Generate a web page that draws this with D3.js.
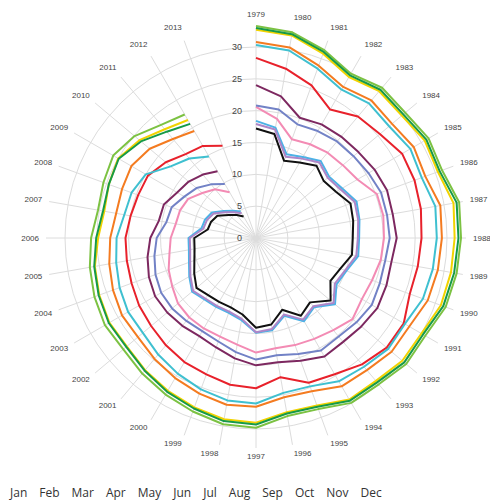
<!DOCTYPE html>
<html>
<head>
<meta charset="utf-8">
<script src="https://cdn.jsdelivr.net/npm/d3@7"></script>
<style>
  body { margin: 0; background: #fff; }
  svg { display: block; }
</style>
</head>
<body>
<svg id="chart" width="490" height="501"></svg>
<script>
// Arctic sea ice volume (thousand km3), one series per month, 1979 onwards
const years = d3.range(1979, 2014);
const months = ['Jan', 'Feb', 'Mar', 'Apr', 'May', 'Jun', 'Jul', 'Aug', 'Sep', 'Oct', 'Nov', 'Dec'];
const monthColors = ['#e8212b', '#f47b20', '#f2d300', '#7cc242', '#169a48', '#3fc0d0',
  '#f38bb4', '#4cb2e6', '#111111', '#ad86c8', '#7282c6', '#7d2860'];
const radialTicks = [0, 5, 10, 15, 20, 25, 30];

const jan = [28.3, 27.0, 25.5, 23.3, 24.9, 25.4, 26.5, 26.5, 26.3, 26.0, 25.8, 25.7, 26.8, 26.8, 25.9, 24.7, 24.2, 22.2, 23.6, 23.4, 22.8, 22.5, 22.0, 21.5, 21.2, 20.8, 20.6, 20.5, 20.0, 19.7, 19.6, 18.5, 17.2, 16.7, 15.4];
const feb = [30.8, 30.4, 28.8, 27.4, 28.2, 27.9, 28.6, 28.3, 29.4, 29.2, 29.0, 28.7, 27.8, 27.8, 27.1, 26.9, 25.6, 25.4, 26.5, 26.6, 26.0, 25.4, 24.8, 24.2, 24.3, 23.9, 23.4, 22.9, 22.3, 22.4, 22.6, 21.8, 20.3, 19.4];
const mar = [32.7, 32.3, 30.8, 29.2, 30.1, 29.9, 30.6, 30.4, 31.5, 31.2, 31.1, 30.9, 30.0, 30.0, 29.3, 29.3, 28.0, 27.8, 29.0, 28.9, 28.3, 27.7, 27.1, 26.5, 26.6, 26.2, 25.7, 24.8, 24.2, 24.6, 25.0, 23.9, 22.3, 21.4];
const apr = [33.3, 32.8, 31.4, 29.8, 30.8, 30.6, 31.3, 31.1, 32.4, 32.2, 32.0, 31.7, 30.7, 30.8, 30.0, 29.9, 28.6, 28.4, 29.8, 29.7, 29.0, 28.4, 27.8, 27.2, 27.4, 27.0, 26.5, 25.9, 25.2, 25.5, 25.9, 24.9, 23.2, 22.4];
const may = [33.0, 32.5, 31.1, 29.5, 30.4, 30.2, 30.9, 30.7, 32.0, 31.8, 31.6, 31.3, 30.3, 30.4, 29.6, 29.5, 28.2, 28.0, 29.3, 29.2, 28.5, 27.9, 27.2, 26.6, 26.7, 26.3, 25.8, 25.1, 24.4, 24.6, 24.9, 23.6, 21.8, 20.7];
const jun = [30.3, 29.9, 28.3, 26.9, 27.6, 27.3, 28.0, 27.7, 28.6, 28.4, 28.2, 27.9, 27.0, 27.1, 26.4, 26.0, 24.8, 24.7, 26.0, 25.9, 25.3, 24.6, 23.9, 23.2, 23.2, 22.8, 22.3, 21.9, 21.0, 20.8, 20.0, 17.5, 16.3, 14.8];
const jul = [20.6, 19.0, 16.5, 17.0, 17.5, 17.8, 18.4, 20.2, 20.3, 20.1, 19.9, 19.4, 19.2, 19.8, 18.9, 18.3, 17.9, 17.6, 18.0, 17.0, 16.5, 16.4, 16.3, 16.0, 15.2, 14.6, 13.8, 13.4, 12.8, 12.7, 12.3, 11.0, 10.0, 8.3];
const aug = [18.4, 17.6, 14.0, 14.7, 15.8, 15.0, 15.6, 16.8, 16.5, 16.2, 16.3, 15.1, 14.6, 16.2, 14.2, 15.1, 13.0, 14.7, 14.9, 13.1, 12.5, 12.5, 12.6, 13.1, 12.1, 11.2, 10.7, 10.6, 8.7, 8.5, 8.0, 6.6, 5.6, 4.8];
const sep = [17.2, 16.6, 12.9, 13.7, 14.8, 13.9, 14.5, 15.8, 15.5, 15.2, 15.3, 14.1, 13.5, 15.3, 13.2, 14.1, 12.0, 13.8, 14.1, 12.2, 11.6, 11.6, 11.7, 12.2, 11.2, 10.3, 9.8, 9.7, 7.7, 7.5, 7.0, 5.6, 4.7, 3.9];
const oct = [17.9, 17.3, 13.6, 14.4, 15.5, 14.7, 15.3, 16.5, 16.3, 16.0, 16.0, 14.9, 14.3, 15.9, 14.0, 14.8, 12.8, 14.5, 14.8, 12.9, 12.3, 12.3, 12.4, 12.9, 11.9, 11.0, 10.5, 10.4, 8.4, 8.2, 7.7, 6.3, 5.3, 4.5];
const nov = [20.8, 20.5, 19.0, 19.4, 19.8, 20.0, 20.4, 20.9, 20.9, 21.0, 20.6, 20.7, 21.0, 20.6, 20.2, 20.4, 19.4, 18.7, 19.1, 18.2, 17.3, 16.9, 17.0, 17.2, 17.2, 16.8, 16.2, 15.6, 14.3, 14.1, 13.0, 12.2, 11.0, 9.8];
const dec = [24.0, 22.6, 20.1, 20.6, 20.8, 21.0, 21.5, 21.9, 21.8, 22.1, 21.6, 21.8, 22.0, 21.6, 21.3, 21.5, 20.5, 19.8, 20.0, 19.2, 18.3, 17.8, 18.0, 18.2, 18.3, 17.9, 17.3, 16.6, 15.5, 15.4, 14.3, 13.8, 13.0, 12.1];

const seriesValues = [jan, feb, mar, apr, may, jun, jul, aug, sep, oct, nov, dec];

const svg = d3.select('#chart');
const cx = 256;
const cy = 238;

const angle = d3.scaleLinear().domain([1979, 2015]).range([0, 2 * Math.PI]);
const radius = d3.scaleLinear().domain([0, 30]).range([0, 191]);

const g = svg.append('g').attr('transform', `translate(${cx},${cy})`);

// grid circles
g.selectAll('.ring')
  .data(radialTicks.slice(1))
  .enter()
  .append('circle')
  .attr('class', 'ring')
  .attr('r', (d) => radius(d))
  .attr('fill', 'none')
  .attr('stroke', '#dcdcdc')
  .attr('stroke-width', 1);

// spokes + year labels
const spokeLen = 210;
g.selectAll('.spoke')
  .data(years)
  .enter()
  .append('line')
  .attr('class', 'spoke')
  .attr('x1', 0)
  .attr('y1', 0)
  .attr('x2', (d) => spokeLen * Math.sin(angle(d)))
  .attr('y2', (d) => -spokeLen * Math.cos(angle(d)))
  .attr('stroke', '#dcdcdc')
  .attr('stroke-width', 1);

g.selectAll('.year')
  .data(years)
  .enter()
  .append('text')
  .attr('class', 'year')
  .attr('x', (d) => 217 * Math.sin(angle(d)))
  .attr('y', (d) => {
    const c = Math.cos(angle(d));
    return -221 * c - 3 * c * c;
  })
  .attr('dy', '0.35em')
  .attr('text-anchor', (d) => {
    const s = Math.sin(angle(d));
    if (s > 0.1) return 'start';
    if (s < -0.1) return 'end';
    return 'middle';
  })
  .style('font', '8px "Liberation Sans", Arial, sans-serif')
  .style('fill', '#444')
  .text((d) => d);

// month lines
const line = d3.lineRadial()
  .angle((d) => angle(d[0]))
  .radius((d) => radius(d[1]))
  .curve(d3.curveLinear);

g.selectAll('.month')
  .data(seriesValues)
  .enter()
  .append('path')
  .attr('class', 'month')
  .attr('d', (vals) => line(vals.map((v, i) => [years[i], v])))
  .attr('fill', 'none')
  .attr('stroke', (d, i) => monthColors[i])
  .attr('stroke-width', 2)
  .attr('stroke-linejoin', 'round');

// radial tick labels
g.selectAll('.rtick')
  .data(radialTicks)
  .enter()
  .append('text')
  .attr('class', 'rtick')
  .attr('x', -14)
  .attr('y', (d) => -radius(d))
  .attr('dy', '0.35em')
  .attr('text-anchor', 'end')
  .style('font', '9px "Liberation Sans", Arial, sans-serif')
  .style('fill', '#444')
  .text((d) => d);

// legend (text only)
const legend = svg.append('g').attr('transform', 'translate(10,497)');
let lx = 0;
months.forEach((m) => {
  const t = legend.append('text')
    .attr('x', lx)
    .attr('y', 0)
    .style('font', '12px "Open Sans", sans-serif')
    .style('fill', '#333')
    .text(m);
  lx += t.node().getComputedTextLength() + 12;
});
</script>
</body>
</html>
